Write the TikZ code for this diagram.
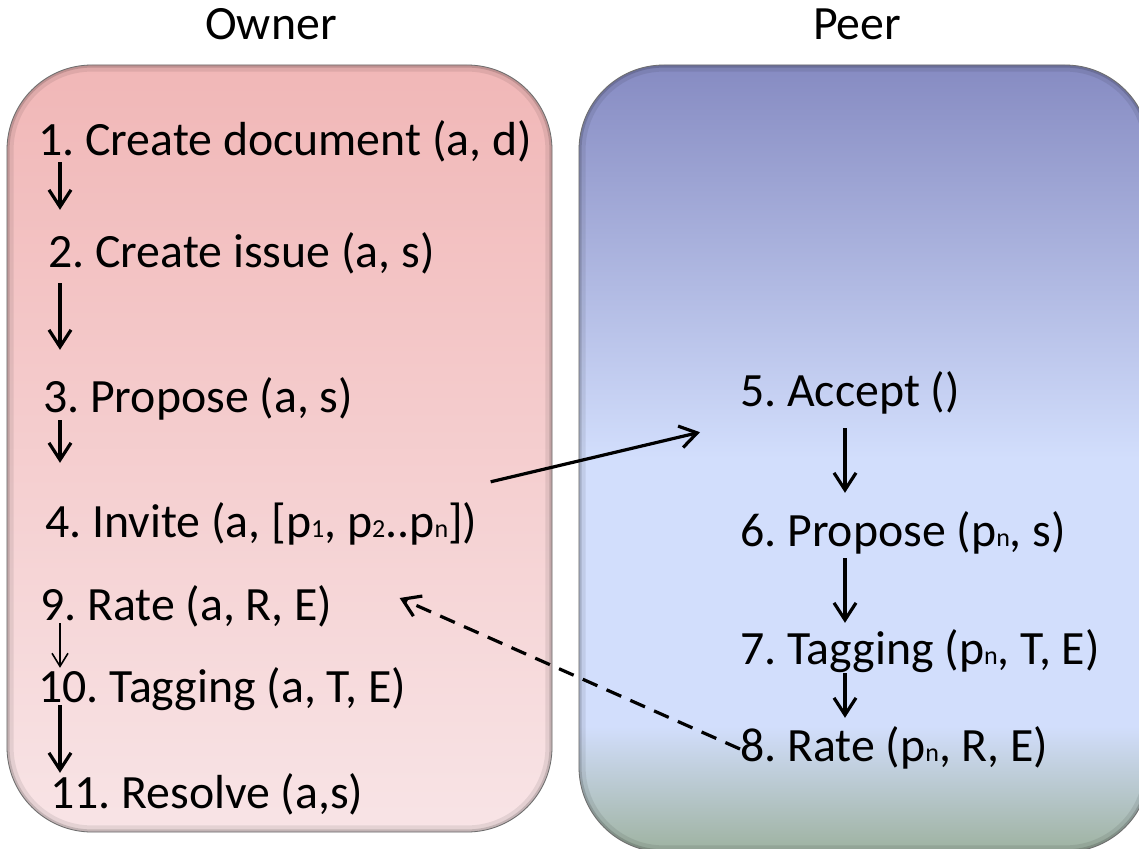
\documentclass[tikz,border=0pt]{standalone}
\usepackage{fontspec}
\setmainfont{Carlito}
\usetikzlibrary{positioning,arrows.meta}

\definecolor{ownertop}{RGB}{241,183,183}
\definecolor{ownerbottom}{RGB}{248,228,230}
\definecolor{peertop}{RGB}{134,139,194}
\definecolor{peerlight}{RGB}{210,222,252}
\definecolor{peerbottom}{RGB}{158,178,160}
\pgfdeclareverticalshading{peerfill}{100bp}{color(0bp)=(peerbottom); color(25bp)=(peerbottom); color(33bp)=(peerlight); color(50bp)=(peerlight); color(75bp)=(peertop); color(100bp)=(peertop)}

\newcommand{\idx}[1]{{\fontsize{26pt}{26pt}\selectfont #1}}
\frenchspacing

\begin{document}
\begin{tikzpicture}[
        x=1pt, y=-1pt,
        stepnode/.style={anchor=base west, inner sep=0pt, text height=34pt, text depth=10pt, font=\fontsize{47.8pt}{56pt}\selectfont},
        lanetag/.style={anchor=base, inner sep=0pt, font=\fontsize{47.8pt}{56pt}\selectfont},
        zone/.style={rounded corners=85pt, draw=black!45, line width=0.8pt, inner sep=0pt},
        flow/.style={-{Straight Barb[length=17pt,width=22pt]}, line width=3.2pt},
        thinflow/.style={-{Straight Barb[length=13pt,width=16pt]}, line width=1.6pt},
        reply/.style={flow, dash pattern=on 16pt off 10pt}
      ]
      \clip (0,0) rectangle (1139,848);

      \node (ownerzone) [zone, top color=ownertop, bottom color=ownerbottom, minimum width=545pt, minimum height=767pt] at (279.5,448.5) {};
      \node (peerzone) [zone, shading=peerfill, minimum width=571pt, minimum height=787pt] at (864.5,458.5) {};
      \foreach \z in {ownerzone, peerzone} {
        \begin{scope}
          \clip[rounded corners=85pt] (\z.south west) rectangle (\z.north east);
          \draw[rounded corners=85pt, line width=14pt, black, opacity=.08] (\z.south west) rectangle (\z.north east);
          \draw[rounded corners=85pt, line width=6pt, black, opacity=.14] (\z.south west) rectangle (\z.north east);
        \end{scope}
      }
      \node (ownertag) [lanetag] at (271,40) {Owner};
      \node (peertag) [lanetag] at (857,40) {Peer};

      % owner side
      \node (create) [stepnode] at (38,155) {1. Create document (a, d)};
      \node (issue) [stepnode] at (48,267) {2. Create issue (a, s)};
      \node (propose) [stepnode] at (43,412) {3. Propose (a, s)};
      \node (invite) [stepnode] at (45,537) {4. Invite (a, [p\idx{1}, p\idx{2}..p\idx{n}])};
      \node (rate) [stepnode] at (40,620) {9. Rate (a, R, E)};
      \node (tagging) [stepnode] at (38,702) {10. Tagging (a, T, E)};
      \node (resolve) [stepnode] at (50,808) {11. Resolve (a,s)};

      % peer side
      \node (accept) [stepnode] at (740,406) {5. Accept ()};
      \node (ppropose) [stepnode] at (740,546) {6. Propose (p\idx{n}, s)};
      \node (ptagging) [stepnode] at (740,664) {7. Tagging (p\idx{n}, T, E)};
      \node (prate) [stepnode] at (740,761) {8. Rate (p\idx{n}, R, E)};

      \draw[flow] ([xshift=22pt,yshift=3pt]create.south west) -- ([xshift=12pt,yshift=23pt]issue.north west);
      \draw[flow] ([xshift=12pt,yshift=-6pt]issue.south west) -- ([xshift=17pt,yshift=28pt]propose.north west);
      \draw[flow] ([xshift=17pt,yshift=2pt]propose.south west) -- ([xshift=15pt,yshift=40pt]invite.north west);
      \draw[thinflow] ([xshift=20pt,yshift=7pt]rate.south west) -- ([xshift=22pt]tagging.north west);
      \draw[flow] ([xshift=22pt,yshift=7pt]tagging.south west) -- ([xshift=10pt,yshift=1pt]resolve.north west);

      \draw[flow] ([xshift=105pt,yshift=-12pt]accept.south west) -- ([xshift=105pt,yshift=19pt]ppropose.north west);
      \draw[flow] ([xshift=105pt,yshift=-2pt]ppropose.south west) -- ([xshift=105pt,yshift=7pt]ptagging.north west);
      \draw[flow] ([xshift=105pt,yshift=1pt]ptagging.south west) -- ([xshift=105pt,yshift=9pt]prate.north west);

      \draw[flow] ([xshift=13pt,yshift=21pt]invite.north east) -- ([xshift=-40pt,yshift=-16pt]accept.south west);
      \draw[reply] (prate.west) -- ([xshift=67pt,yshift=10pt]rate.east);

    \end{tikzpicture}
\end{document}
